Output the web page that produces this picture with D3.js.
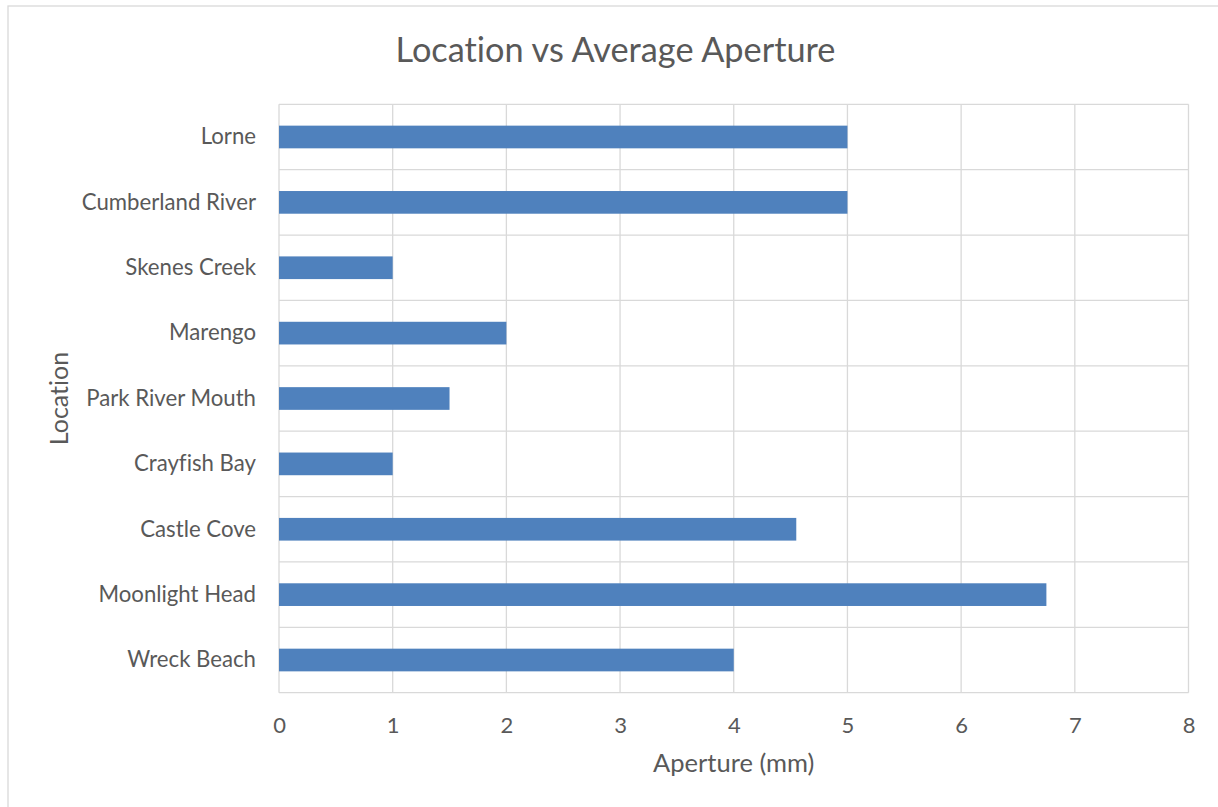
<!DOCTYPE html>
<html>
<head>
<meta charset="utf-8">
<script src="https://cdn.jsdelivr.net/npm/d3@7"></script>
<style>
  html, body { margin: 0; padding: 0; background: #fff; }
  svg { display: block; }
  text { font-family: Lato, "Open Sans", sans-serif; fill: #595959; font-variant-ligatures: none; font-feature-settings: "liga" 0; }
</style>
</head>
<body>
<svg id="chart" width="1218" height="807"></svg>
<script>
// Average aperture per sampling location (mm), listed top to bottom
const locations = ["Lorne", "Cumberland River", "Skenes Creek", "Marengo", "Park River Mouth",
                   "Crayfish Bay", "Castle Cove", "Moonlight Head", "Wreck Beach"];
const aperture = [5, 5, 1, 2, 1.5, 1, 4.55, 6.75, 4];
const xTicks = [0, 1, 2, 3, 4, 5, 6, 7, 8];

const chartTitle = "Location vs Average Aperture";
const xTitle = "Aperture (mm)";
const yTitle = "Location";

const svg = d3.select("#chart");
const plot = { left: 279, right: 1188.5, top: 104.3, bottom: 692.7 };

// outer chart border
svg.append("rect")
  .attr("x", 8).attr("y", 6).attr("width", 1230).attr("height", 820)
  .attr("fill", "#fff").attr("stroke", "#d9d9d9").attr("stroke-width", 1.3);

const x = d3.scaleLinear().domain([0, 8]).range([plot.left, plot.right]);
const y = d3.scaleBand().domain(locations).range([plot.top, plot.bottom]).paddingInner(0.653).paddingOuter(0.3265);
const band = d3.scaleBand().domain(locations).range([plot.top, plot.bottom]);

const grid = svg.append("g").attr("stroke", "#d9d9d9").attr("stroke-width", 1.3);
// vertical value gridlines
grid.selectAll("line.v").data(xTicks).join("line")
  .attr("class", "v")
  .attr("x1", d => x(d)).attr("x2", d => x(d))
  .attr("y1", plot.top).attr("y2", plot.bottom);
// horizontal category boundaries
const bounds = locations.map(d => band(d)).concat([plot.bottom]);
grid.selectAll("line.h").data(bounds).join("line")
  .attr("class", "h")
  .attr("x1", plot.left).attr("x2", plot.right)
  .attr("y1", d => d).attr("y2", d => d);

// bars
svg.append("g").selectAll("rect").data(locations).join("rect")
  .attr("x", x(0))
  .attr("y", d => y(d))
  .attr("width", (d, i) => x(aperture[i]) - x(0))
  .attr("height", y.bandwidth())
  .attr("fill", "#4f81bd");

// x axis labels
const xAxis = svg.append("g").attr("transform", `translate(0,${plot.bottom})`)
  .call(d3.axisBottom(x).tickValues(xTicks).tickFormat(d3.format("d")).tickSize(0).tickPadding(0));
xAxis.select(".domain").remove();
xAxis.selectAll("text").attr("font-size", 22).attr("dy", null).attr("y", 40)
  .style("font-family", "Lato, sans-serif").attr("fill", "#595959");

// y axis labels
const yAxis = svg.append("g").attr("transform", `translate(${plot.left},0)`)
  .call(d3.axisLeft(band).tickSize(0).tickPadding(23));
yAxis.select(".domain").remove();
yAxis.selectAll("text").attr("font-size", 22.2).attr("dy", "0.33em")
  .style("font-family", "Lato, sans-serif").attr("fill", "#595959");

// titles
svg.append("text").attr("x", 615.5).attr("y", 62).attr("text-anchor", "middle")
  .attr("font-size", 34.3).text(chartTitle);
svg.append("text").attr("x", (plot.left + plot.right) / 2).attr("y", 772).attr("text-anchor", "middle")
  .attr("font-size", 25.5).text(xTitle);
svg.append("text").attr("transform", `translate(68,${(plot.top + plot.bottom) / 2}) rotate(-90)`)
  .attr("text-anchor", "middle").attr("font-size", 25).text(yTitle);
</script>
</body>
</html>
